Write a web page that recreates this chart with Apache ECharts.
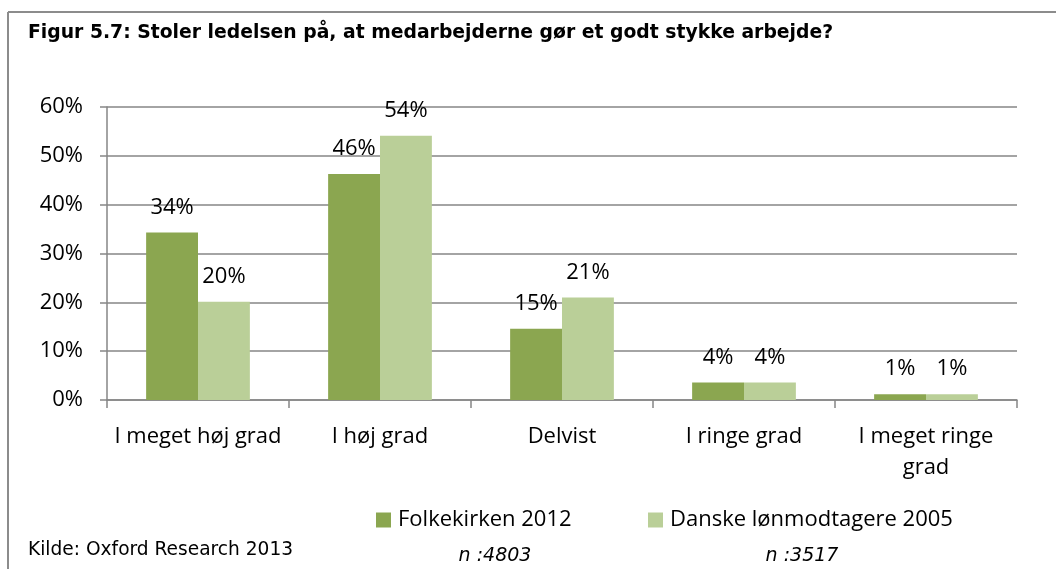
<!DOCTYPE html>
<html>
<head>
<meta charset="utf-8">
<script src="https://cdn.jsdelivr.net/npm/echarts@6/dist/echarts.min.js"></script>
<style>
  html, body { margin: 0; padding: 0; background: #fff; }
  #diagram { width: 1056px; height: 569px; }
</style>
</head>
<body>
<div id="diagram"></div>
<script>
var categories = ["I meget høj grad", "I høj grad", "Delvist", "I ringe grad", "I meget ringe\ngrad"];
var seriesNames = ["Folkekirken 2012", "Danske lønmodtagere 2005"];
var folkekirken = [34.3, 46.3, 14.6, 3.6, 1.2];
var lonmodtagere = [20.1, 54.1, 21.0, 3.6, 1.2];
var sampleSizes = ["n :4803", "n :3517"];
var yTicks = { min: 0, max: 60, interval: 10 };
var titleText = "Figur 5.7: Stoler ledelsen på, at medarbejderne gør et godt stykke arbejde?";
var sourceText = "Kilde: Oxford Research 2013";

var myChart = echarts.init(document.getElementById("diagram"));
var bodyFont = "Open Sans";
var bodySize = 22;
var grey = "#868686";

function pct(p) { return Math.round(p.value) + "%"; }

var option = {
  animation: false,
  color: ["#8BA650", "#BACF98"],
  title: {
    text: titleText,
    left: 28,
    top: 24,
    padding: 0,
    textStyle: {
      fontFamily: "DejaVu Sans",
      fontWeight: "bold",
      fontSize: 18.8,
      color: "#000"
    }
  },
  grid: { left: 107, right: 39, top: 107, bottom: 169, containLabel: false },
  legend: [
    {
      data: [seriesNames[0]],
      left: 371, top: 504,
      itemWidth: 15, itemHeight: 15, itemGap: 0, icon: "rect",
      textStyle: { fontFamily: bodyFont, fontSize: bodySize, color: "#000", padding: [0, 0, 0, 2] }
    },
    {
      data: [seriesNames[1]],
      left: 643, top: 504,
      itemWidth: 15, itemHeight: 15, itemGap: 0, icon: "rect",
      textStyle: { fontFamily: bodyFont, fontSize: bodySize, color: "#000", padding: [0, 0, 0, 2] }
    }
  ],
  xAxis: {
    type: "category",
    data: categories,
    axisLine: { lineStyle: { color: grey, width: 1.5 } },
    axisTick: { show: true, length: 8, interval: 0, lineStyle: { color: grey, width: 1.5 } },
    axisLabel: {
      interval: 0, margin: 21, fontFamily: bodyFont, fontSize: bodySize,
      color: "#000", lineHeight: 31
    }
  },
  yAxis: {
    type: "value",
    min: yTicks.min, max: yTicks.max, interval: yTicks.interval,
    axisLine: { show: true, lineStyle: { color: grey, width: 1.5 } },
    axisTick: { show: true, length: 7, lineStyle: { color: grey, width: 1.5 } },
    splitLine: { lineStyle: { color: grey, width: 1.5 } },
    axisLabel: {
      formatter: "{value}%", margin: 24, fontFamily: bodyFont,
      fontSize: bodySize, color: "#000"
    }
  },
  series: [
    {
      name: seriesNames[0],
      type: "bar",
      data: folkekirken,
      barGap: "0%",
      barCategoryGap: "43%",
      label: {
        show: true, position: "top", distance: 14,
        fontFamily: bodyFont, fontSize: bodySize, color: "#000",
        formatter: pct
      }
    },
    {
      name: seriesNames[1],
      type: "bar",
      data: lonmodtagere,
      barGap: "0%",
      barCategoryGap: "43%",
      label: {
        show: true, position: "top", distance: 14,
        fontFamily: bodyFont, fontSize: bodySize, color: "#000",
        formatter: pct
      }
    }
  ],
  graphic: [
    { type: "line", shape: { x1: 8, y1: 12, x2: 1056, y2: 12 }, style: { stroke: "#8c8c8c", lineWidth: 2 } },
    { type: "line", shape: { x1: 8, y1: 12, x2: 8, y2: 569 }, style: { stroke: "#8c8c8c", lineWidth: 2 } },
    {
      type: "text", x: 28, y: 550,
      style: { text: sourceText, font: "18.6px 'DejaVu Sans'", fill: "#000", textVerticalAlign: "middle" }
    },
    {
      type: "text", x: 495, y: 556,
      style: { text: sampleSizes[0], font: "italic 19px 'DejaVu Sans'", fill: "#000", textAlign: "center", textVerticalAlign: "middle" }
    },
    {
      type: "text", x: 802, y: 556,
      style: { text: sampleSizes[1], font: "italic 19px 'DejaVu Sans'", fill: "#000", textAlign: "center", textVerticalAlign: "middle" }
    }
  ]
};
myChart.setOption(option);
</script>
</body>
</html>
